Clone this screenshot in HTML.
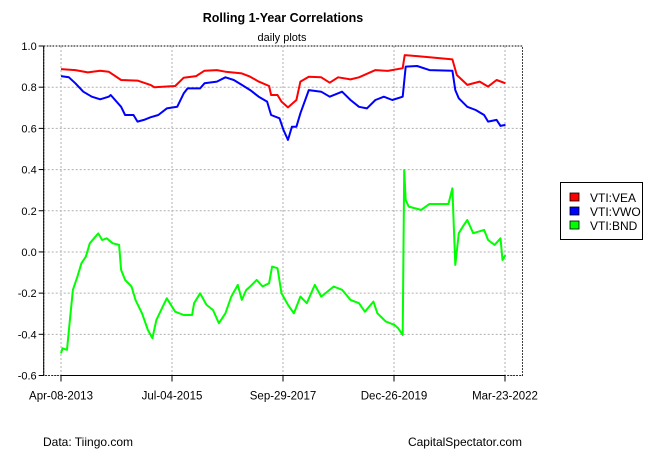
<!DOCTYPE html>
<html><head><meta charset="utf-8"><style>
body{margin:0;background:#fff;}
svg text{font-family:"Liberation Sans",sans-serif;fill:#000;}
</style></head><body>
<svg id="chart" width="650" height="450" xmlns="http://www.w3.org/2000/svg">
<rect width="650" height="450" fill="#fff"/>
<text x="283" y="22" font-size="12.5" font-weight="bold" text-anchor="middle">Rolling 1-Year Correlations</text>
<text x="282" y="41" font-size="11" text-anchor="middle">daily plots</text>
<g id="grid"></g><g id="axes"></g><g id="series"></g>
<g>
<rect x="560.5" y="182.5" width="82" height="57" fill="#fff" stroke="#000"/>
<rect x="570" y="193" width="9" height="8" fill="#ff0000" stroke="#000" stroke-width="0.8"/>
<text x="590" y="202" font-size="12">VTI:VEA</text>
<rect x="570" y="207" width="9" height="8" fill="#0000ff" stroke="#000" stroke-width="0.8"/>
<text x="590" y="216" font-size="12">VTI:VWO</text>
<rect x="570" y="221" width="9" height="8" fill="#00ff00" stroke="#000" stroke-width="0.8"/>
<text x="590" y="230" font-size="12">VTI:BND</text>
</g>
<text x="43" y="446" font-size="12">Data: Tiingo.com</text>
<text x="522" y="446" font-size="12" text-anchor="end">CapitalSpectator.com</text>
</svg>
<script>
const xTickLabels=["Apr-08-2013","Jul-04-2015","Sep-29-2017","Dec-26-2019","Mar-23-2022"];
const xTickDates=[2013.27,2015.505,2017.74,2019.975,2022.21];
const yTicks=[1.0,0.8,0.6,0.4,0.2,0.0,-0.2,-0.4,-0.6];
const yTickLabels=["1.0","0.8","0.6","0.4","0.2","0.0","-0.2","-0.4","-0.6"];
const veaDates=[2013.27,2013.56,2013.81,2014.06,2014.23,2014.48,2014.81,2015.07,2015.15,2015.57,2015.74,2015.99,2016.16,2016.41,2016.58,2016.91,2017.08,2017.25,2017.46,2017.50,2017.63,2017.71,2017.84,2018.01,2018.09,2018.26,2018.51,2018.68,2018.85,2019.10,2019.27,2019.60,2019.85,2020.15,2020.19,2020.44,2020.69,2021.15,2021.24,2021.45,2021.70,2021.87,2022.04,2022.22];
const veaValues=[0.888,0.883,0.872,0.880,0.875,0.835,0.832,0.811,0.800,0.806,0.846,0.854,0.880,0.883,0.875,0.867,0.851,0.827,0.806,0.762,0.762,0.730,0.702,0.738,0.827,0.851,0.848,0.822,0.848,0.838,0.848,0.883,0.879,0.892,0.956,0.951,0.945,0.935,0.859,0.811,0.827,0.803,0.835,0.819];
const vwoDates=[2013.27,2013.43,2013.56,2013.72,2013.89,2014.06,2014.23,2014.27,2014.48,2014.56,2014.73,2014.81,2014.94,2015.07,2015.23,2015.40,2015.61,2015.74,2015.82,2016.07,2016.16,2016.41,2016.58,2016.75,2016.91,2017.08,2017.25,2017.42,2017.50,2017.67,2017.75,2017.84,2017.92,2018.01,2018.09,2018.26,2018.51,2018.68,2018.93,2019.10,2019.27,2019.43,2019.60,2019.77,2019.94,2020.15,2020.21,2020.44,2020.69,2021.15,2021.21,2021.28,2021.45,2021.62,2021.79,2021.87,2022.04,2022.12,2022.22];
const vwoValues=[0.854,0.848,0.819,0.778,0.754,0.741,0.754,0.762,0.705,0.665,0.665,0.633,0.641,0.654,0.665,0.697,0.705,0.770,0.794,0.794,0.819,0.827,0.848,0.835,0.811,0.786,0.754,0.730,0.665,0.649,0.592,0.544,0.608,0.608,0.673,0.786,0.778,0.754,0.778,0.738,0.705,0.697,0.738,0.754,0.738,0.754,0.900,0.903,0.883,0.880,0.786,0.746,0.705,0.689,0.665,0.633,0.641,0.612,0.617];
const bndDates=[2013.27,2013.30,2013.39,2013.43,2013.51,2013.60,2013.68,2013.77,2013.85,2014.02,2014.10,2014.19,2014.31,2014.44,2014.48,2014.56,2014.69,2014.77,2014.90,2015.02,2015.11,2015.19,2015.32,2015.40,2015.57,2015.74,2015.91,2015.95,2016.07,2016.20,2016.33,2016.45,2016.58,2016.70,2016.83,2016.91,2017.00,2017.08,2017.21,2017.33,2017.46,2017.52,2017.63,2017.71,2017.84,2017.96,2018.09,2018.22,2018.38,2018.51,2018.76,2018.93,2019.10,2019.27,2019.39,2019.56,2019.64,2019.81,2019.98,2020.06,2020.15,2020.18,2020.21,2020.27,2020.52,2020.69,2021.07,2021.15,2021.18,2021.21,2021.28,2021.36,2021.45,2021.57,2021.79,2021.87,2022.00,2022.12,2022.16,2022.22];
const bndValues=[-0.492,-0.468,-0.475,-0.379,-0.184,-0.120,-0.055,-0.023,0.042,0.090,0.058,0.066,0.042,0.034,-0.087,-0.136,-0.168,-0.233,-0.298,-0.379,-0.419,-0.330,-0.265,-0.225,-0.290,-0.306,-0.306,-0.249,-0.201,-0.257,-0.282,-0.346,-0.298,-0.217,-0.160,-0.233,-0.185,-0.168,-0.136,-0.168,-0.152,-0.071,-0.079,-0.201,-0.257,-0.298,-0.217,-0.249,-0.160,-0.217,-0.168,-0.184,-0.233,-0.249,-0.290,-0.241,-0.298,-0.338,-0.354,-0.371,-0.403,0.398,0.252,0.220,0.204,0.233,0.233,0.309,0.123,-0.063,0.091,0.123,0.155,0.091,0.107,0.058,0.034,0.066,-0.039,-0.015];

const NS="http://www.w3.org/2000/svg";
const L=43.7,R=522.5,T=46,B=375.5;
const X0=61,X1=505;
function xS(t){return X0+(t-xTickDates[0])/(xTickDates[4]-xTickDates[0])*(X1-X0);}
function yS(v){return T+(1-v)/1.6*(B-T);}
function mk(tag,at,parent){const e=document.createElementNS(NS,tag);for(const k in at)e.setAttribute(k,at[k]);parent.appendChild(e);return e;}
const grid=document.getElementById('grid'),axes=document.getElementById('axes'),ser=document.getElementById('series');
yTicks.forEach((v,i)=>{
  const y=yS(v);
  const g=mk('line',{x1:L,x2:R,y1:y,y2:y,stroke:'#b0b0b0','stroke-dasharray':'2,2'},grid);
  
  
  mk('line',{x1:L-5,x2:L,y1:y,y2:y,stroke:'#000'},axes);
  const t=mk('text',{x:L-7,y:y+4,'font-size':'11','text-anchor':'end'},axes);
  t.textContent=yTickLabels[i];
  
  
});
xTickDates.forEach((d,i)=>{
  const x=xS(d);
  const g=mk('line',{x1:x,x2:x,y1:T,y2:B,stroke:'#b0b0b0','stroke-dasharray':'2,2'},grid);
  
  
  mk('line',{x1:x,x2:x,y1:B,y2:B+6,stroke:'#000'},axes);
  const t=mk('text',{x:x,y:B+24,'font-size':'11.5','text-anchor':'middle'},axes);
  t.textContent=xTickLabels[i];
  
  
});
const box=mk('rect',{x:L,y:T,width:R-L,height:B-T,fill:'none',stroke:'#000','stroke-dasharray':'1.5,1.5'},axes);


mk('line',{x1:L,x2:L,y1:T,y2:B,stroke:'#000'},axes);
mk('line',{x1:xS(xTickDates[0]),x2:xS(xTickDates[4]),y1:B,y2:B,stroke:'#000'},axes);
function line(dates,vals,color,name){
  const d=dates.map((t,i)=>(i?'L':'M')+xS(t).toFixed(1)+','+yS(vals[i]).toFixed(1)).join('');
  const p=mk('path',{d:d,fill:'none',stroke:color,'stroke-width':'2','stroke-linejoin':'round'},ser);
  
  
}
line(veaDates,veaValues,'#ff0000','series-vti-vea');
line(vwoDates,vwoValues,'#0000ff','series-vti-vwo');
line(bndDates,bndValues,'#00ff00','series-vti-bnd');
</script>
</body></html>
